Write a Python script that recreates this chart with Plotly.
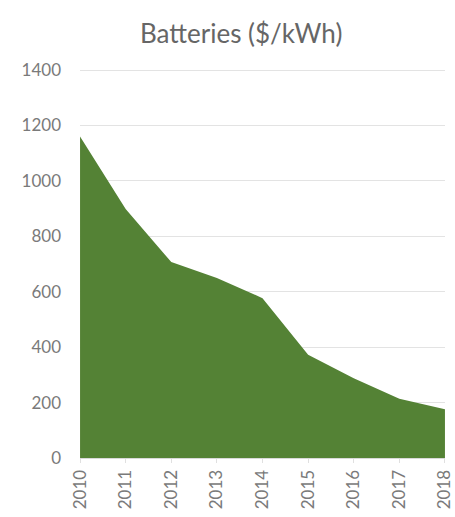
import plotly.graph_objects as go

years = [2010, 2011, 2012, 2013, 2014, 2015, 2016, 2017, 2018]
price_usd_per_kwh = [1160, 899, 707, 650, 577, 373, 288, 214, 176]
year_labels = [str(y) for y in years]
y_ticks = [0, 200, 400, 600, 800, 1000, 1200, 1400]

fig = go.Figure()
fig.add_trace(go.Scatter(
    x=years,
    y=price_usd_per_kwh,
    mode="lines",
    line=dict(color="#548235", width=0),
    fill="tozeroy",
    fillcolor="#548235",
    hoverinfo="x+y",
))

fig.update_layout(
    width=455,
    height=517,
    margin=dict(l=80, r=10, t=69, b=59),
    paper_bgcolor="white",
    plot_bgcolor="white",
    showlegend=False,
    title=dict(
        text="Batteries ($/kWh)",
        x=0.53,
        xanchor="center",
        y=1 - 34 / 517,
        yanchor="middle",
        font=dict(family="Lato", size=26, color="#666666"),
    ),
    font=dict(family="Lato", size=17, color="#7a7a7a"),
)

fig.update_xaxes(
    range=[2009.999, 2018.001],
    tickmode="array",
    tickvals=years,
    ticktext=year_labels,
    tickangle=-90,
    ticklabeloverflow="allow",
    automargin=False,
    showgrid=False,
    zeroline=False,
    showline=True,
    linecolor="#d9d9d9",
    linewidth=1,
    ticks="outside",
    ticklen=4,
    tickcolor="#e0e0e0",
    tickfont=dict(family="Lato", size=17, color="#7a7a7a"),
)

fig.update_yaxes(
    range=[0, 1404],
    tickmode="array",
    tickvals=y_ticks,
    automargin=False,
    showgrid=True,
    gridcolor="#e3e3e3",
    gridwidth=1,
    zeroline=False,
    showline=False,
    ticks="",
    ticklabelstandoff=18,
    tickfont=dict(family="Lato", size=17, color="#7a7a7a"),
)

fig.write_html("out.html")
